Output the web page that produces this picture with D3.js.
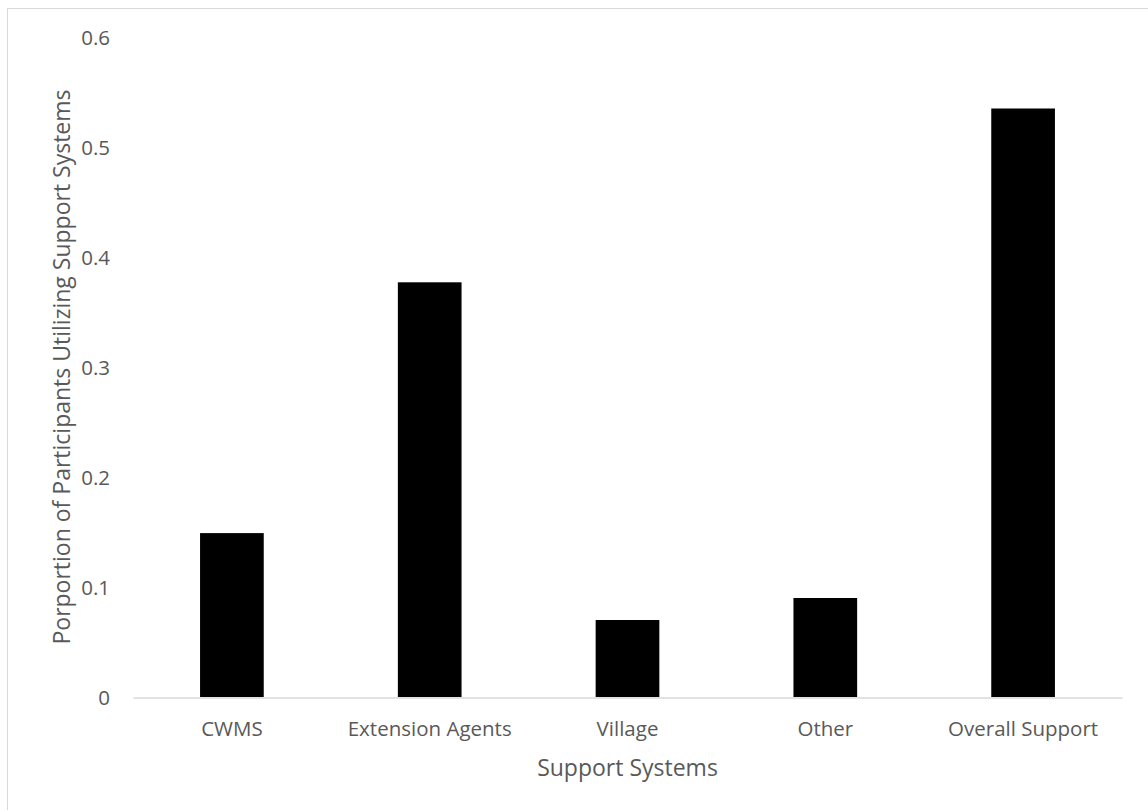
<!DOCTYPE html>
<html>
<head>
<meta charset="utf-8">
<script src="https://cdn.jsdelivr.net/npm/d3@7"></script>
<style>
  html, body { margin: 0; padding: 0; background: #fff; }
  svg { display: block; }
  text { font-family: "Open Sans", sans-serif; fill: #595959; }
</style>
</head>
<body>
<svg id="chart" width="1148" height="810"></svg>
<script>
const categories = ["CWMS", "Extension Agents", "Village", "Other", "Overall Support"];
const values = [0.149, 0.377, 0.070, 0.090, 0.535];
const yTicks = [0, 0.1, 0.2, 0.3, 0.4, 0.5, 0.6];
const xTitle = "Support Systems";
const yTitle = "Porportion of Participants Utilizing Support Systems";

const svg = d3.select("#chart");
const W = 1148, H = 810;
const plot = { left: 133, right: 1122, top: 37, bottom: 697 };

// outer chart border
svg.append("rect")
  .attr("x", 7.5).attr("y", 8.5)
  .attr("width", W + 10).attr("height", H + 10)
  .attr("fill", "none").attr("stroke", "#d9d9d9").attr("stroke-width", 1);

const x = d3.scaleBand().domain(categories)
  .range([plot.left, plot.right]).paddingInner(0).paddingOuter(0);
const y = d3.scaleLinear().domain([0, 0.6]).range([plot.bottom, plot.top]);

const barW = x.bandwidth() * 0.322;

// bars
svg.append("g").selectAll("rect")
  .data(categories.map((c, i) => ({ c, v: values[i] })))
  .join("rect")
  .attr("x", d => x(d.c) + (x.bandwidth() - barW) / 2)
  .attr("y", d => y(d.v))
  .attr("width", barW)
  .attr("height", d => y(0) - y(d.v))
  .attr("fill", "#000");

// x axis line
const xAxis = d3.axisBottom(x).tickSize(0).tickPadding(0);
const gx = svg.append("g").attr("transform", `translate(0,${plot.bottom + 0.5})`).call(xAxis);
gx.select(".domain").attr("stroke", "#d9d9d9").attr("stroke-width", 1.5);
gx.selectAll(".tick text")
  .attr("font-size", 20.5)
  .attr("dy", null)
  .attr("y", 38)
  .style("font-family", "'Open Sans', sans-serif")
  .attr("fill", "#595959");

// y axis labels (no line)
const yAxis = d3.axisLeft(y).tickValues(yTicks).tickSize(0).tickPadding(0)
  .tickFormat(d => d === 0 ? "0" : d3.format(".1f")(d));
const gy = svg.append("g").attr("transform", `translate(110,0)`).call(yAxis);
gy.select(".domain").remove();
gy.selectAll(".tick text")
  .attr("font-size", 20.5)
  .attr("x", 0)
  .attr("dy", "0.35em")
  .style("font-family", "'Open Sans', sans-serif")
  .attr("fill", "#595959");

// axis titles
svg.append("text")
  .attr("x", (plot.left + plot.right) / 2)
  .attr("y", 776)
  .attr("text-anchor", "middle")
  .attr("font-size", 23)
  .text(xTitle);

svg.append("text")
  .attr("transform", `translate(70,${(plot.top + plot.bottom) / 2}) rotate(-90)`)
  .attr("text-anchor", "middle")
  .attr("font-size", 23)
  .text(yTitle);
</script>
</body>
</html>
